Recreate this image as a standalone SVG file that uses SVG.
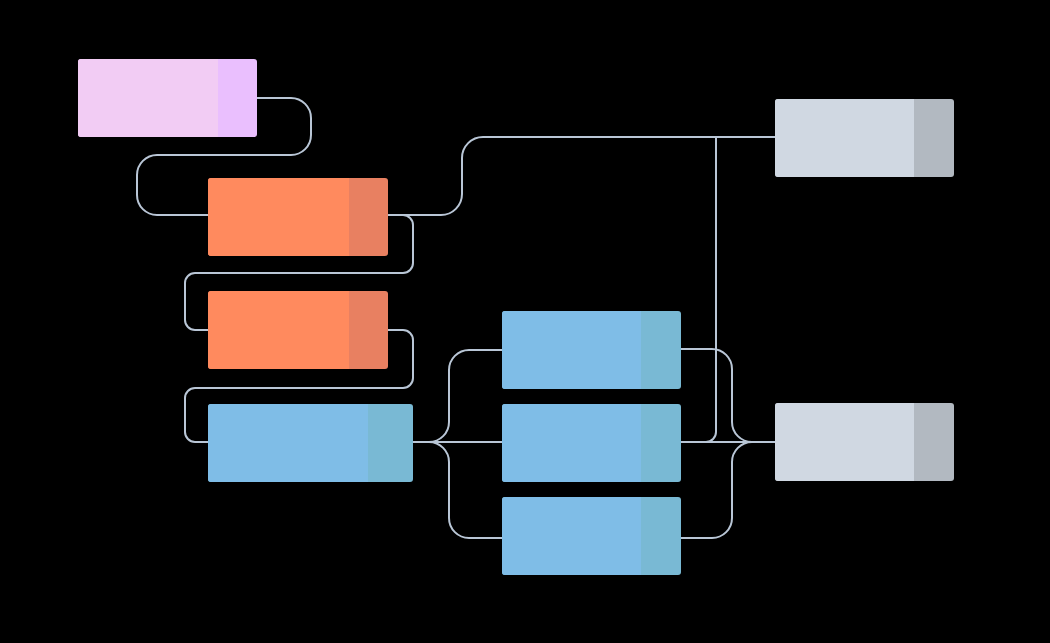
<svg xmlns="http://www.w3.org/2000/svg" width="1050" height="643" viewBox="0 0 1050 643">
<style>
.e{fill:none;stroke:#B9C6D6;stroke-width:2}
.pk{fill:#F2CCF4}.pkd{fill:#EABFFE}
.or{fill:#FF8A5E}.ord{fill:#E88061}
.bl{fill:#7FBDE7}.bld{fill:#79B9D4}
.gr{fill:#D0D8E2}.grd{fill:#B2B9C1}
</style>
<rect width="1050" height="643" fill="#000"/>
<g id="connectors">
<path class="e" d="M257 98 H291 A20 20 0 0 1 311 118 V135 A20 20 0 0 1 291 155 H157 A20 20 0 0 0 137 175 V195 A20 20 0 0 0 157 215 H209"/>
<path class="e" d="M388 215 H403 A10 10 0 0 1 413 225 V263 A10 10 0 0 1 403 273 H195 A10 10 0 0 0 185 283 V320 A10 10 0 0 0 195 330 H209"/>
<path class="e" d="M388 330 H403 A10 10 0 0 1 413 340 V378 A10 10 0 0 1 403 388 H195 A10 10 0 0 0 185 398 V432 A10 10 0 0 0 195 442 H209"/>
<path class="e" d="M388 215 H441 A21 21 0 0 0 462 194 V158 A21 21 0 0 1 483 137 H775"/>
<path class="e" d="M681 442 H706 A10 10 0 0 0 716 432 V137"/>
<path class="e" d="M413 442 H429 A20 20 0 0 0 449 422 V370 A20 20 0 0 1 469 350 H502"/>
<path class="e" d="M413 442 H502"/>
<path class="e" d="M413 442 H429 A20 20 0 0 1 449 462 V518 A20 20 0 0 0 469 538 H502"/>
<path class="e" d="M681 349 H712 A20 20 0 0 1 732 369 V422 A20 20 0 0 0 752 442 H775"/>
<path class="e" d="M681 442 H775"/>
<path class="e" d="M681 538 H712 A20 20 0 0 0 732 518 V462 A20 20 0 0 1 752 442 H775"/>
</g>
<g id="n1"><rect class="pkd" x="78" y="59" width="179" height="78" rx="3"/><path class="pk" d="M81 59 H218 V137 H81 A3 3 0 0 1 78 134 V62 A3 3 0 0 1 81 59Z"/></g>
<g id="n2"><rect class="ord" x="208" y="178" width="180" height="78" rx="3"/><path class="or" d="M211 178 H349 V256 H211 A3 3 0 0 1 208 253 V181 A3 3 0 0 1 211 178Z"/></g>
<g id="n3"><rect class="ord" x="208" y="291" width="180" height="78" rx="3"/><path class="or" d="M211 291 H349 V369 H211 A3 3 0 0 1 208 366 V294 A3 3 0 0 1 211 291Z"/></g>
<g id="n4"><rect class="bld" x="208" y="404" width="205" height="78" rx="3"/><path class="bl" d="M211 404 H368 V482 H211 A3 3 0 0 1 208 479 V407 A3 3 0 0 1 211 404Z"/></g>
<g id="n5"><rect class="bld" x="502" y="311" width="179" height="78" rx="3"/><path class="bl" d="M505 311 H641 V389 H505 A3 3 0 0 1 502 386 V314 A3 3 0 0 1 505 311Z"/></g>
<g id="n6"><rect class="bld" x="502" y="404" width="179" height="78" rx="3"/><path class="bl" d="M505 404 H641 V482 H505 A3 3 0 0 1 502 479 V407 A3 3 0 0 1 505 404Z"/></g>
<g id="n7"><rect class="bld" x="502" y="497" width="179" height="78" rx="3"/><path class="bl" d="M505 497 H641 V575 H505 A3 3 0 0 1 502 572 V500 A3 3 0 0 1 505 497Z"/></g>
<g id="n8"><rect class="grd" x="775" y="99" width="179" height="78" rx="3"/><path class="gr" d="M778 99 H914 V177 H778 A3 3 0 0 1 775 174 V102 A3 3 0 0 1 778 99Z"/></g>
<g id="n9"><rect class="grd" x="775" y="403" width="179" height="78" rx="3"/><path class="gr" d="M778 403 H914 V481 H778 A3 3 0 0 1 775 478 V406 A3 3 0 0 1 778 403Z"/></g>
</svg>
